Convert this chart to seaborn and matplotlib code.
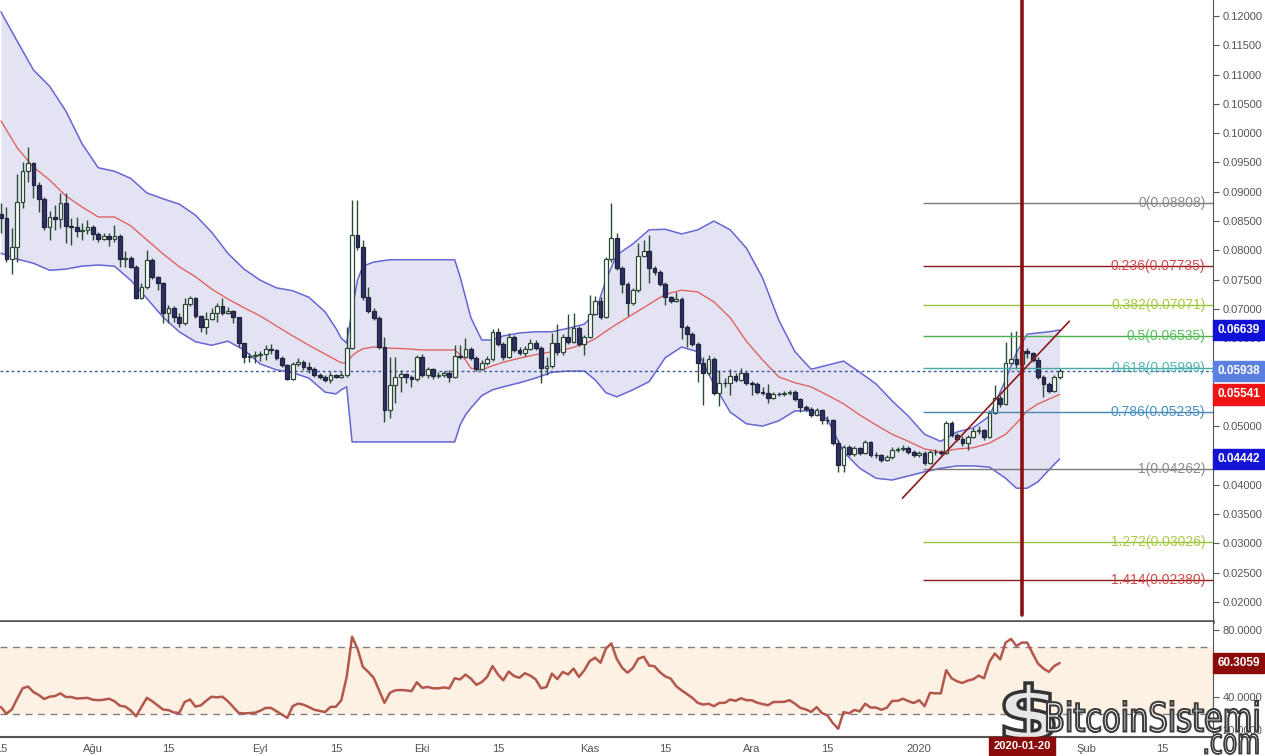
import numpy as np
import pandas as pd
import matplotlib
matplotlib.use("Agg")
import matplotlib.pyplot as plt
import matplotlib.dates as mdates
from matplotlib.textpath import TextPath
from matplotlib.patches import PathPatch
from matplotlib.font_manager import FontProperties
from matplotlib.transforms import Affine2D, IdentityTransform, blended_transform_factory
import seaborn as sns

sns.set_style("white")
plt.rcParams['font.family'] = ['Liberation Sans', 'DejaVu Sans']

# daily candles from 2019-07-15 to 2020-01-27
start = pd.Timestamp('2019-07-15')
first_open = 0.0862
closes = [
    0.0855, 0.0785, 0.0806, 0.0883, 0.0936, 0.0949, 0.0912, 0.0888, 0.0840, 0.0857,
    0.0854, 0.0881, 0.0842, 0.0840, 0.0833, 0.0835, 0.0840, 0.0828, 0.0819, 0.0824,
    0.0819, 0.0824, 0.0785, 0.0787, 0.0772, 0.0719, 0.0738, 0.0784, 0.0755, 0.0744,
    0.0693, 0.0702, 0.0686, 0.0676, 0.0708, 0.0719, 0.0688, 0.0669, 0.0683, 0.0693,
    0.0705, 0.0693, 0.0697, 0.0686, 0.0642, 0.0618, 0.0619, 0.0621, 0.0623, 0.0632,
    0.0630, 0.0616, 0.0604, 0.0580, 0.0606, 0.0609, 0.0601, 0.0597, 0.0587, 0.0584,
    0.0579, 0.0587, 0.0584, 0.0587, 0.0633, 0.0826, 0.0806, 0.0720, 0.0697, 0.0685,
    0.0635, 0.0528, 0.0570, 0.0584, 0.0589, 0.0584, 0.0580, 0.0618, 0.0587, 0.0597,
    0.0586, 0.0587, 0.0591, 0.0584, 0.0620, 0.0618, 0.0632, 0.0616, 0.0597, 0.0608,
    0.0615, 0.0661, 0.0640, 0.0618, 0.0652, 0.0630, 0.0625, 0.0632, 0.0642, 0.0633,
    0.0599, 0.0603, 0.0642, 0.0627, 0.0652, 0.0644, 0.0667, 0.0640, 0.0652, 0.0691,
    0.0714, 0.0686, 0.0785, 0.0821, 0.0770, 0.0743, 0.0710, 0.0732, 0.0790, 0.0799,
    0.0770, 0.0763, 0.0743, 0.0720, 0.0714, 0.0717, 0.0669, 0.0657, 0.0640, 0.0608,
    0.0591, 0.0615, 0.0557, 0.0574, 0.0573, 0.0586, 0.0579, 0.0591, 0.0574, 0.0572,
    0.0558, 0.0557, 0.0548, 0.0555, 0.0554, 0.0556, 0.0558, 0.0546, 0.0533, 0.0529,
    0.0519, 0.0528, 0.0511, 0.0510, 0.0471, 0.0434, 0.0464, 0.0453, 0.0463, 0.0454,
    0.0473, 0.0451, 0.0450, 0.0442, 0.0447, 0.0459, 0.0461, 0.0463, 0.0456, 0.0451,
    0.0454, 0.0437, 0.0456, 0.0455, 0.0454, 0.0505, 0.0485, 0.0478, 0.0471, 0.0481,
    0.0492, 0.0493, 0.0481, 0.0522, 0.0548, 0.0538, 0.0608, 0.0615, 0.0606, 0.0628,
    0.0625, 0.0613, 0.0584, 0.0572, 0.0560, 0.0584, 0.05938,
]
highs = [
    0.0881, 0.0874, 0.0838, 0.0930, 0.0951, 0.0976, 0.0951, 0.0917, 0.0891, 0.0867,
    0.0878, 0.0898, 0.0898, 0.0855, 0.0857, 0.0847, 0.0852, 0.0843, 0.0831, 0.0829,
    0.0829, 0.0843, 0.0828, 0.0799, 0.0790, 0.0775, 0.0744, 0.0801, 0.0787, 0.0756,
    0.0746, 0.0707, 0.0705, 0.0693, 0.0719, 0.0722, 0.0720, 0.0690, 0.0695, 0.0702,
    0.0710, 0.0719, 0.0703, 0.0698, 0.0686, 0.0642, 0.0625, 0.0628, 0.0628, 0.0638,
    0.0640, 0.0632, 0.0620, 0.0606, 0.0609, 0.0616, 0.0613, 0.0609, 0.0601, 0.0591,
    0.0587, 0.0592, 0.0589, 0.0592, 0.0669, 0.0886, 0.0886, 0.0818, 0.0737, 0.0702,
    0.0688, 0.0652, 0.0618, 0.0618, 0.0596, 0.0591, 0.0587, 0.0621, 0.0623, 0.0601,
    0.0599, 0.0592, 0.0594, 0.0596, 0.0638, 0.0638, 0.0650, 0.0635, 0.0620, 0.0613,
    0.0620, 0.0666, 0.0667, 0.0644, 0.0659, 0.0656, 0.0635, 0.0637, 0.0649, 0.0647,
    0.0637, 0.0618, 0.0659, 0.0674, 0.0657, 0.0691, 0.0693, 0.0671, 0.0656, 0.0724,
    0.0722, 0.0720, 0.0789, 0.0881, 0.0830, 0.0773, 0.0746, 0.0736, 0.0813, 0.0818,
    0.0826, 0.0773, 0.0766, 0.0746, 0.0722, 0.0729, 0.0720, 0.0673, 0.0661, 0.0644,
    0.0618, 0.0621, 0.0618, 0.0596, 0.0582, 0.0598, 0.0591, 0.0599, 0.0592, 0.0577,
    0.0575, 0.0567, 0.0572, 0.0558, 0.0558, 0.0560, 0.0562, 0.0562, 0.0548, 0.0536,
    0.0533, 0.0531, 0.0529, 0.0517, 0.0512, 0.0476, 0.0468, 0.0468, 0.0466, 0.0464,
    0.0476, 0.0475, 0.0456, 0.0452, 0.0451, 0.0464, 0.0464, 0.0468, 0.0466, 0.0459,
    0.0458, 0.0458, 0.0459, 0.0461, 0.0459, 0.0509, 0.0509, 0.0488, 0.0483, 0.0485,
    0.0497, 0.0500, 0.0495, 0.0527, 0.0570, 0.0553, 0.0644, 0.0661, 0.0662, 0.0649,
    0.0633, 0.0627, 0.0618, 0.0587, 0.0575, 0.0587, 0.0599,
]
lows = [
    0.0830, 0.0780, 0.0760, 0.0780, 0.0872, 0.0917, 0.0889, 0.0866, 0.0835, 0.0818,
    0.0835, 0.0838, 0.0812, 0.0809, 0.0823, 0.0818, 0.0828, 0.0818, 0.0814, 0.0818,
    0.0807, 0.0814, 0.0772, 0.0772, 0.0770, 0.0717, 0.0717, 0.0734, 0.0751, 0.0732,
    0.0676, 0.0676, 0.0678, 0.0669, 0.0673, 0.0705, 0.0685, 0.0661, 0.0657, 0.0681,
    0.0678, 0.0690, 0.0691, 0.0676, 0.0635, 0.0608, 0.0609, 0.0608, 0.0611, 0.0613,
    0.0623, 0.0613, 0.0601, 0.0579, 0.0579, 0.0603, 0.0596, 0.0591, 0.0584, 0.0580,
    0.0575, 0.0574, 0.0582, 0.0582, 0.0584, 0.0632, 0.0801, 0.0715, 0.0693, 0.0681,
    0.0632, 0.0507, 0.0514, 0.0539, 0.0558, 0.0574, 0.0567, 0.0577, 0.0584, 0.0582,
    0.0580, 0.0582, 0.0584, 0.0575, 0.0582, 0.0615, 0.0616, 0.0613, 0.0594, 0.0596,
    0.0604, 0.0611, 0.0637, 0.0613, 0.0616, 0.0627, 0.0621, 0.0620, 0.0630, 0.0630,
    0.0574, 0.0587, 0.0599, 0.0621, 0.0621, 0.0640, 0.0642, 0.0637, 0.0621, 0.0650,
    0.0690, 0.0683, 0.0685, 0.0780, 0.0766, 0.0727, 0.0688, 0.0707, 0.0729, 0.0789,
    0.0744, 0.0758, 0.0739, 0.0707, 0.0710, 0.0712, 0.0649, 0.0635, 0.0637, 0.0575,
    0.0536, 0.0587, 0.0553, 0.0534, 0.0567, 0.0553, 0.0575, 0.0577, 0.0570, 0.0553,
    0.0555, 0.0553, 0.0539, 0.0546, 0.0551, 0.0551, 0.0553, 0.0543, 0.0524, 0.0526,
    0.0516, 0.0517, 0.0504, 0.0504, 0.0468, 0.0422, 0.0422, 0.0449, 0.0449, 0.0451,
    0.0453, 0.0447, 0.0446, 0.0439, 0.0440, 0.0444, 0.0456, 0.0458, 0.0452, 0.0447,
    0.0447, 0.0434, 0.0435, 0.0451, 0.0451, 0.0453, 0.0481, 0.0475, 0.0466, 0.0459,
    0.0480, 0.0487, 0.0476, 0.0480, 0.0521, 0.0533, 0.0536, 0.0606, 0.0597, 0.0599,
    0.0616, 0.0609, 0.0580, 0.0550, 0.0557, 0.0558, 0.0580,
]
rsi = [
    34.0, 30.0, 32.6, 39.0, 45.2, 46.3, 43.0, 41.2, 38.8, 40.2,
    40.6, 42.2, 40.0, 40.0, 39.1, 39.3, 39.5, 38.4, 38.1, 38.4,
    39.0, 37.5, 34.8, 34.3, 32.0, 28.5, 34.0, 39.5, 37.5, 35.0,
    32.5, 32.2, 30.8, 30.5, 37.0, 38.5, 34.3, 35.0, 37.8, 40.2,
    39.8, 40.2, 37.5, 34.0, 30.5, 30.2, 30.4, 30.6, 31.8, 33.5,
    33.5, 31.5, 29.6, 27.5, 34.5, 36.1, 35.4, 34.0, 32.4, 31.7,
    31.0, 34.1, 34.2, 38.0, 52.0, 76.0, 69.0, 58.0, 55.0, 51.5,
    44.0, 36.5, 42.5, 44.0, 44.2, 44.0, 43.5, 48.8, 45.5, 46.0,
    45.2, 45.2, 45.7, 45.2, 51.2, 50.5, 53.4, 51.0, 47.3, 48.9,
    52.0, 58.5, 53.5, 50.0, 55.2, 52.5, 51.5, 54.2, 52.8, 50.5,
    45.2, 46.0, 54.0, 50.7, 55.0, 53.5, 57.0, 52.0, 56.0, 61.5,
    63.5, 60.5, 69.0, 72.0, 62.8, 57.5, 54.5, 57.4, 62.9, 64.1,
    58.8, 58.4, 54.8, 52.3, 51.0, 46.5, 44.0, 41.8, 39.5, 36.5,
    35.5, 36.0, 34.5, 36.5, 36.5, 38.5, 37.7, 39.3, 38.1, 38.1,
    36.6, 35.8, 35.1, 37.0, 37.1, 37.1, 38.1, 36.0, 33.5, 32.6,
    31.1, 34.0, 30.4, 29.0, 24.5, 21.0, 31.0, 30.2, 32.3, 31.4,
    36.0, 33.7, 33.7, 32.4, 33.6, 37.7, 37.7, 39.0, 37.5, 36.4,
    38.1, 34.5, 42.5, 42.2, 42.2, 56.0, 51.2, 49.4, 48.4, 49.8,
    50.6, 52.8, 51.2, 61.0, 66.0, 62.5, 72.5, 74.7, 70.5, 72.5,
    72.5, 66.0, 60.0, 57.0, 55.0, 58.5, 60.3059,
]

# Bollinger band readings (day index from start)
bb_idx = [0, 3, 6, 9, 12, 15, 18, 21, 24, 27, 30, 33, 36, 39, 42, 45, 48, 51, 54, 57,
          60, 62, 63, 64, 65, 66, 67, 69, 72, 75, 78, 81, 84, 85, 86, 87, 89, 91, 93, 96,
          99, 102, 105, 108, 110, 112, 114, 117, 120, 123, 126, 129, 132, 135, 138, 141,
          144, 147, 150, 153, 156, 159, 162, 165, 168, 171, 174, 177, 180, 183, 186, 188,
          190, 192, 194, 196]
bb_upper = [0.1207, 0.1157, 0.1108, 0.1080, 0.1038, 0.0982, 0.0941, 0.0935, 0.0923, 0.0898,
            0.0888, 0.0879, 0.0860, 0.0831, 0.0795, 0.0768, 0.0749, 0.0736, 0.0731, 0.0720,
            0.0695, 0.0667, 0.0650, 0.0642, 0.0698, 0.0749, 0.0773, 0.0780, 0.0784, 0.0784,
            0.0784, 0.0784, 0.0784, 0.0755, 0.0720, 0.0685, 0.0647, 0.0647, 0.0654, 0.0659,
            0.0661, 0.0661, 0.0667, 0.0674, 0.0693, 0.0749, 0.0792, 0.0811, 0.0835, 0.0836,
            0.0828, 0.0835, 0.0850, 0.0835, 0.0804, 0.0753, 0.0681, 0.0627, 0.0597, 0.0604,
            0.0611, 0.0592, 0.0572, 0.0543, 0.0517, 0.0486, 0.0474, 0.0490, 0.0497, 0.0517,
            0.0579, 0.0625, 0.0657, 0.0659, 0.0661, 0.0664]
bb_mid = [0.1021, 0.0975, 0.0942, 0.0920, 0.0893, 0.0874, 0.0857, 0.0857, 0.0842, 0.0818,
          0.0794, 0.0772, 0.0755, 0.0734, 0.0717, 0.0702, 0.0688, 0.0671, 0.0654, 0.0638,
          0.0623, 0.0613, 0.0608, 0.0608, 0.0620, 0.0627, 0.0632, 0.0635, 0.0633, 0.0632,
          0.0630, 0.0630, 0.0630, 0.0622, 0.0613, 0.0599, 0.0596, 0.0603, 0.0609, 0.0616,
          0.0622, 0.0627, 0.0632, 0.0640, 0.0649, 0.0662, 0.0674, 0.0691, 0.0708, 0.0725,
          0.0732, 0.0729, 0.0712, 0.0685, 0.0645, 0.0613, 0.0584, 0.0574, 0.0567, 0.0553,
          0.0538, 0.0519, 0.0502, 0.0486, 0.0474, 0.0461, 0.0456, 0.0461, 0.0463, 0.0471,
          0.0486, 0.0505, 0.0526, 0.0538, 0.0546, 0.05541]
bb_lower = [0.0795, 0.0785, 0.0778, 0.0766, 0.0768, 0.0773, 0.0775, 0.0773, 0.0749, 0.0718,
            0.0686, 0.0661, 0.0644, 0.0638, 0.0645, 0.0630, 0.0606, 0.0596, 0.0591, 0.0582,
            0.0558, 0.0555, 0.0562, 0.0567, 0.0473, 0.0473, 0.0473, 0.0473, 0.0473, 0.0473,
            0.0473, 0.0473, 0.0473, 0.0502, 0.0519, 0.0531, 0.0552, 0.0562, 0.0567, 0.0574,
            0.0582, 0.0592, 0.0594, 0.0594, 0.0579, 0.0557, 0.0550, 0.0562, 0.0576, 0.0617,
            0.0635, 0.0627, 0.0571, 0.0524, 0.0504, 0.0500, 0.0509, 0.0526, 0.0526, 0.0512,
            0.0456, 0.0428, 0.0411, 0.0408, 0.0415, 0.0422, 0.0428, 0.0432, 0.0432, 0.0430,
            0.0411, 0.0394, 0.0394, 0.0405, 0.0425, 0.0444]

fib_ratios = ['0', '0.236', '0.382', '0.5', '0.618', '0.786', '1', '1.272', '1.414']
fib_prices = [0.08808, 0.07735, 0.07071, 0.06535, 0.05999, 0.05235, 0.04262, 0.03026, 0.02380]
fib_line_colors = ['#7a7a7a', '#8b1a1a', '#9cc23c', '#4caf50', '#45a9a6', '#4a86b4',
                   '#7a7a7a', '#9cc23c', '#8b1a1a']
fib_text_colors = ['#8c8c8c', '#d24a4a', '#a6cc44', '#58c058', '#52b8b2', '#4a92c4',
                   '#8c8c8c', '#a6cc44', '#d24a4a']
fib_start_day = 170.75
fib_label_day = 223

trend_days = [166.9, 197.8]
trend_prices = [0.0377, 0.0679]
marker_date = pd.Timestamp('2020-01-20')

price_tags = [(0.06639, '#1111d6'), (0.05938, '#5b80e2'), (0.05541, '#ee1414'), (0.04442, '#1414d6')]
last_price = 0.05938
rsi_last = 60.3059

tick_dates = ['2019-07-15', '2019-08-01', '2019-08-15', '2019-09-01', '2019-09-15', '2019-10-01',
              '2019-10-15', '2019-11-01', '2019-11-15', '2019-12-01', '2019-12-15', '2020-01-01',
              '2020-02-01', '2020-02-15']
tick_labels = ['15', 'Ağu', '15', 'Eyl', '15', 'Eki', '15', 'Kas', '15', 'Ara', '15', '2020',
               'Şub', '15']

# ---------------------------------------------------------------
n = len(closes)
dates = pd.date_range(start, periods=n, freq='D')
x = mdates.date2num(dates.to_pydatetime())
x0 = mdates.date2num(start.to_pydatetime())
c = np.array(closes)
o = np.array([first_open] + closes[:-1])
h = np.maximum(np.array(highs), np.maximum(o, c))
l = np.minimum(np.array(lows), np.minimum(o, c))

fig = plt.figure(figsize=(12.65, 7.56), dpi=100)
ax = fig.add_axes([0, 0.1772, 0.9589, 0.8228])
ax2 = fig.add_axes([0, 0.0251, 0.9589, 0.1521], sharex=ax)

axis_grey = '#555555'
wick_col = '#2b4a34'

# Bollinger bands
xb = x[bb_idx]
ax.fill_between(xb, bb_lower, bb_upper, color='#e3e3f3', lw=0, zorder=1)
sns.lineplot(x=xb, y=bb_upper, ax=ax, color='#6666d4', linewidth=1.1, zorder=2)
sns.lineplot(x=xb, y=bb_lower, ax=ax, color='#6666d4', linewidth=1.1, zorder=2)
sns.lineplot(x=xb, y=bb_mid, ax=ax, color='#e06464', linewidth=1.0, zorder=2)

# candles
up = c >= o
ax.vlines(x, l, h, color=wick_col, lw=1.0, zorder=3)
ax.bar(x[up], (c - o)[up], bottom=o[up], width=0.7, color='white',
       edgecolor=wick_col, linewidth=0.9, zorder=4)
ax.bar(x[~up], (o - c)[~up], bottom=c[~up], width=0.7, color='#2e3060',
       edgecolor='#20223f', linewidth=0.9, zorder=4)

# last price dotted line
ax.axhline(last_price, color='#3d5aa0', ls=(0, (2, 2)), lw=1, zorder=2)

# fibonacci retracement
xr = x0 + 224.4
for ratio, price, lc, tc in zip(fib_ratios, fib_prices, fib_line_colors, fib_text_colors):
    ax.hlines(price, x0 + fib_start_day, xr, color=lc, lw=1, zorder=5)
    ax.text(x0 + fib_label_day, price, '{}({:.5f})'.format(ratio, price), color=tc,
            fontsize=10, ha='right', va='center', zorder=6)

# trend line + date marker
ax.plot([x0 + d for d in trend_days], trend_prices, color='#8b1a1a', lw=1.2, zorder=6)
xm = mdates.date2num(marker_date.to_pydatetime())
ax.axvline(xm, ymin=0.012, ymax=1, color='#8b1010', lw=2.6, zorder=7)

ax.set_xlim(x0 - 0.185, xr)
ax.set_ylim(0.01656, 0.12273)
ax.yaxis.tick_right()
ax.set_yticks(np.arange(0.02, 0.1201, 0.005))
ax.yaxis.set_major_formatter(matplotlib.ticker.FormatStrFormatter('%.5f'))
ax.tick_params(axis='y', direction='out', length=4, color=axis_grey, labelsize=8,
               labelcolor='#555555', pad=3)
ax.tick_params(axis='x', bottom=False, labelbottom=False)
for s in ['top', 'left']:
    ax.spines[s].set_visible(False)
ax.spines['right'].set_color(axis_grey)
ax.spines['bottom'].set_color(axis_grey)
ax.spines['bottom'].set_linewidth(2.6)
ax.set_xlabel('')
ax.set_ylabel('')

ytr = blended_transform_factory(ax.transAxes, ax.transData)
for val, col in price_tags:
    ax.text(1.0035, val, '{:.5f}'.format(val), transform=ytr, color='white', fontsize=8.5,
            fontweight='bold', ha='left', va='center', clip_on=False, zorder=10,
            bbox=dict(boxstyle='square,pad=0.35', fc=col, ec=col))

# RSI panel
ax2.axhspan(30, 70, color='#fdf1e3', lw=0, zorder=0)
ax2.axhline(70, color='#808080', ls=(0, (5, 4)), lw=1, zorder=1)
ax2.axhline(30, color='#808080', ls=(0, (5, 4)), lw=1, zorder=1)
sns.lineplot(x=x, y=rsi, ax=ax2, color='#b3574d', linewidth=1.8, zorder=3)
ax2.set_ylim(16.1, 84.8)
ax2.yaxis.tick_right()
ax2.set_yticks([20, 40, 60, 80])
ax2.yaxis.set_major_formatter(matplotlib.ticker.FormatStrFormatter('%.4f'))
ax2.tick_params(axis='y', direction='out', length=4, color=axis_grey, labelsize=8,
                labelcolor='#555555', pad=3)
ax2.set_xticks([mdates.date2num(pd.Timestamp(d).to_pydatetime()) for d in tick_dates])
ax2.set_xticklabels(tick_labels)
ax2.tick_params(axis='x', direction='out', length=4, color=axis_grey, labelsize=8,
                labelcolor='#555555', pad=1)
for s in ['top', 'left']:
    ax2.spines[s].set_visible(False)
ax2.spines['right'].set_color(axis_grey)
ax2.spines['bottom'].set_color(axis_grey)
ax2.spines['bottom'].set_linewidth(1.5)
ax2.set_xlabel('')
ax2.set_ylabel('')

ytr2 = blended_transform_factory(ax2.transAxes, ax2.transData)
ax2.text(1.0035, rsi_last, '{:.4f}'.format(rsi_last), transform=ytr2, color='white',
         fontsize=8.5, fontweight='bold', ha='left', va='center', clip_on=False, zorder=10,
         bbox=dict(boxstyle='square,pad=0.35', fc='#8b0a0a', ec='#8b0a0a'))


# watermark
def text_in_box(s, x0p, y0p, w, hgt, fc, ec, lw, family='DejaVu Sans', weight='normal'):
    tp = TextPath((0, 0), s, size=1, prop=FontProperties(family=family, weight=weight))
    bb = tp.get_extents()
    tr = Affine2D().translate(-bb.x0, -bb.y0).scale(w / bb.width, hgt / bb.height).translate(x0p, y0p)
    patch = PathPatch(tr.transform_path(tp), transform=IdentityTransform(), fc=fc, ec=ec,
                      lw=lw, zorder=20)
    fig.patches.append(patch)


text_in_box('$', 1004, 6, 50, 67, '#e6e6e6', '#333333', 2.5, weight='bold')
text_in_box('BitcoinSistemi', 1047, 24, 211, 31, 'white', '#3c3c3c', 1.5)
text_in_box('.com', 1205, 2, 53, 20, 'white', '#3c3c3c', 1.3)

# date marker tag drawn above the watermark
fig.text(1022 / 1265, 10 / 756, marker_date.strftime('%Y-%m-%d'), color='white',
         fontsize=8, fontweight='bold', ha='center', va='center', zorder=30,
         bbox=dict(boxstyle='square,pad=0.35', fc='#8b0a0a', ec='#8b0a0a'))

fig.savefig('out.png', dpi=100)
